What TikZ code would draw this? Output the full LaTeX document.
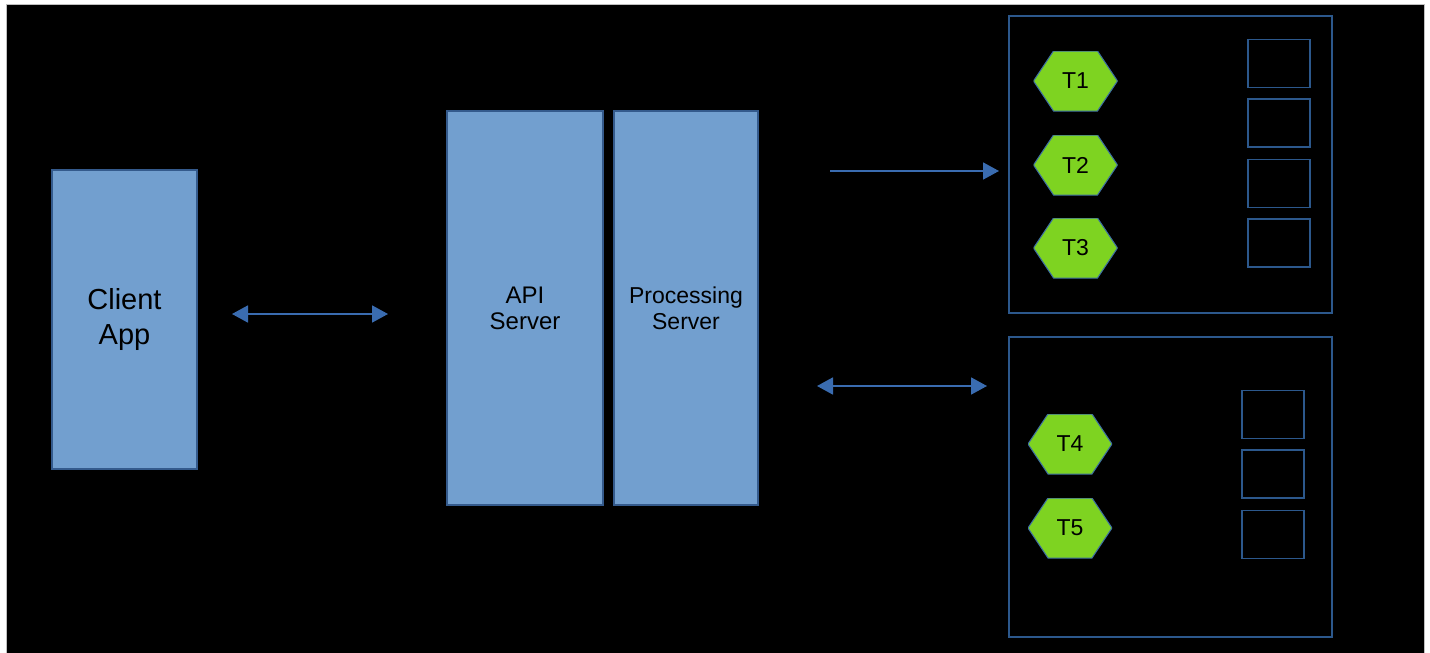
\documentclass[tikz,border=0pt]{standalone}
\usepackage{fontspec}
\setmainfont{Liberation Sans}
\usetikzlibrary{arrows.meta}
\definecolor{boxfill}{RGB}{114,159,207}
\definecolor{boxline}{RGB}{52,90,140}
\definecolor{arrowblue}{RGB}{58,108,176}
\definecolor{contline}{RGB}{44,88,140}
\definecolor{hexgreen}{RGB}{126,211,33}
\definecolor{hexline}{RGB}{60,110,160}
\tikzset{
  server/.style={draw=boxline, line width=1.5pt, fill=boxfill, inner sep=0pt, align=center, text=black},
  container/.style={draw=contline, line width=1.5pt, inner sep=0pt},
  slot/.style={draw=contline, line width=1.3pt, inner sep=0pt, minimum width=62pt, minimum height=48pt},
  hex/.style={minimum width=84pt, minimum height=60pt, inner sep=0pt, text=black,
    font=\fontsize{23}{25}\selectfont,
    path picture={\fill[hexgreen, draw=hexline, line width=1pt]
      (path picture bounding box.west) -- ([xshift=20pt]path picture bounding box.north west)
      -- ([xshift=-20pt]path picture bounding box.north east) -- (path picture bounding box.east)
      -- ([xshift=-20pt]path picture bounding box.south east) -- ([xshift=20pt]path picture bounding box.south west) -- cycle;}},
  link/.style={draw=arrowblue, line width=1.8pt},
  tip/.style={-{Triangle[length=16pt,width=17pt]}},
  tips/.style={{Triangle[length=16pt,width=17pt]}-{Triangle[length=16pt,width=17pt]}}
}
\begin{document}
\begin{tikzpicture}[x=1pt,y=-1pt]
\useasboundingbox (0,0) rectangle (1430,653);
\fill[white] (0,0) rectangle (1430,653);
\path[fill=black, draw=black!25, line width=1pt] (6,4) rectangle (1424,654);

\node[server, minimum width=145pt, minimum height=299pt, font=\fontsize{29}{35}\selectfont] (client) at (124.5,319.5) {Client\\App};
\node[server, minimum width=156pt, minimum height=394pt, font=\fontsize{24}{26}\selectfont] (api) at (525,308) {API\\Server};
\node[server, minimum width=144pt, minimum height=394pt, font=\fontsize{23}{26}\selectfont] (proc) at (686,308) {Processing\\Server};

\node[container, minimum width=323pt, minimum height=297pt] (upper) at (1170.5,164.5) {};
\node[container, minimum width=323pt, minimum height=300pt] (lower) at (1170.5,487) {};

\node[slot] (s1) at (1279,63.5) {};
\node[slot] (s2) at (1279,123) {};
\node[slot] (s3) at (1279,183.5) {};
\node[slot] (s4) at (1279,243) {};
\node[slot] (s5) at (1273,414.5) {};
\node[slot] (s6) at (1273,474) {};
\node[slot] (s7) at (1273,534.5) {};

\node[hex] (t1) at (1075.5,81) {T1};
\node[hex] (t2) at (1075.5,165) {T2};
\node[hex] (t3) at (1075.5,248) {T3};
\node[hex] (t4) at (1070,444) {T4};
\node[hex] (t5) at (1070,528) {T5};

\coordinate (ca) at (232,314);
\coordinate (cb) at (388,314);
\coordinate (pa) at (830,171);
\coordinate (pb) at (999,171);
\coordinate (qa) at (817,386);
\coordinate (qb) at (987,386);

\draw[link, tips] (ca) -- (cb);
\draw[link, tip] (pa) -- (pb);
\draw[link, tips] (qa) -- (qb);
\end{tikzpicture}
\end{document}
